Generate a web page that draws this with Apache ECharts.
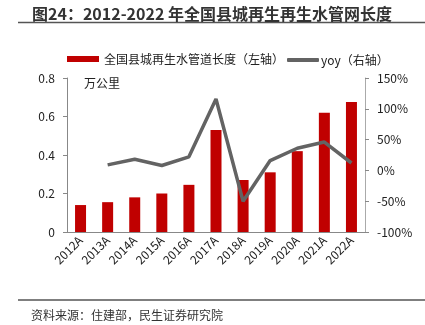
<!DOCTYPE html>
<html><head><meta charset="utf-8">
<script src="https://cdn.jsdelivr.net/npm/echarts@6/dist/echarts.min.js"></script>
<style>html,body{margin:0;padding:0;background:#fff}#c{width:425px;height:325px}</style>
</head><body><div id="c"></div>
<script>
const categories = ['2012A','2013A','2014A','2015A','2016A','2017A','2018A','2019A','2020A','2021A','2022A'];
const pipeLength = [0.14,0.155,0.18,0.20,0.245,0.53,0.27,0.31,0.42,0.62,0.675];
const yoy = [null,9,18,8,22,116,-50,16,36,46,12];
const leftTicks = [0,0.2,0.4,0.6,0.8];
const titleText = '图24：2012-2022 年全国县城再生再生水管网长度';
const sourceText = '资料来源：住建部，民生证券研究院';
const font = '"Noto Sans CJK SC", sans-serif';
const chart = echarts.init(document.getElementById('c'));
chart.setOption({
  animation:false,
  textStyle:{fontFamily:font},
  title:[
    {text:titleText,left:27,top:1,textStyle:{fontSize:16,fontWeight:'bold',color:'#333',fontFamily:font}},
    {text:'万公里',left:79,top:72,textStyle:{fontSize:12,fontWeight:'normal',color:'#222',fontFamily:font}},
    {text:sourceText,left:26,top:304,textStyle:{fontSize:12,fontWeight:'normal',color:'#333',fontFamily:font}}
  ],
  graphic:[
    {type:'line',shape:{x1:18,y1:22.5,x2:425,y2:22.5},style:{stroke:'#555',lineWidth:1.5}},
    {type:'line',shape:{x1:18,y1:300,x2:425,y2:300},style:{stroke:'#555',lineWidth:1.5}}
  ],
  legend:[
    {top:48,left:62,itemWidth:32,itemHeight:6,
     textStyle:{fontSize:12,color:'#222',fontFamily:font},
     data:[{name:'全国县城再生水管道长度（左轴）',icon:'rect'}]},
    {top:49,left:282,itemWidth:32,itemHeight:4,itemGap:2,
     textStyle:{fontSize:12,color:'#222',fontFamily:font,padding:[0,0,0,-3]},
     data:[{name:'yoy（右轴）',icon:'roundRect',itemStyle:{color:'#636363'}}]}
  ],
  grid:{left:67,right:60,top:78,bottom:93},
  xAxis:{type:'category',data:categories,
    axisLine:{lineStyle:{color:'#888'}},
    axisTick:{inside:true,length:4,lineStyle:{color:'#888'}},
    axisLabel:{rotate:45,color:'#222',fontSize:12,margin:6}},
  yAxis:[
    {type:'value',min:0,max:0.8,interval:0.2,
     axisLine:{show:true,lineStyle:{color:'#888'}},
     axisTick:{show:true,length:4,lineStyle:{color:'#888'}},
     splitLine:{show:false},
     axisLabel:{color:'#222',fontSize:12,margin:12,formatter:v=>leftTicks.includes(+v.toFixed(1))?String(+v.toFixed(1)):''}},
    {type:'value',min:-100,max:150,interval:50,
     axisLine:{show:true,lineStyle:{color:'#aaa'}},
     axisTick:{show:true,length:4,lineStyle:{color:'#888'}},
     splitLine:{show:false},
     axisLabel:{color:'#222',fontSize:12,margin:12,formatter:'{value}%'}}
  ],
  series:[
    {name:'全国县城再生水管道长度（左轴）',type:'bar',data:pipeLength,barWidth:11,
     itemStyle:{color:'#C00000'}},
    {name:'yoy（右轴）',type:'line',yAxisIndex:1,data:yoy,symbol:'none',
     lineStyle:{color:'#636363',width:3.5},itemStyle:{color:'#636363'}}
  ]
});
</script></body></html>
